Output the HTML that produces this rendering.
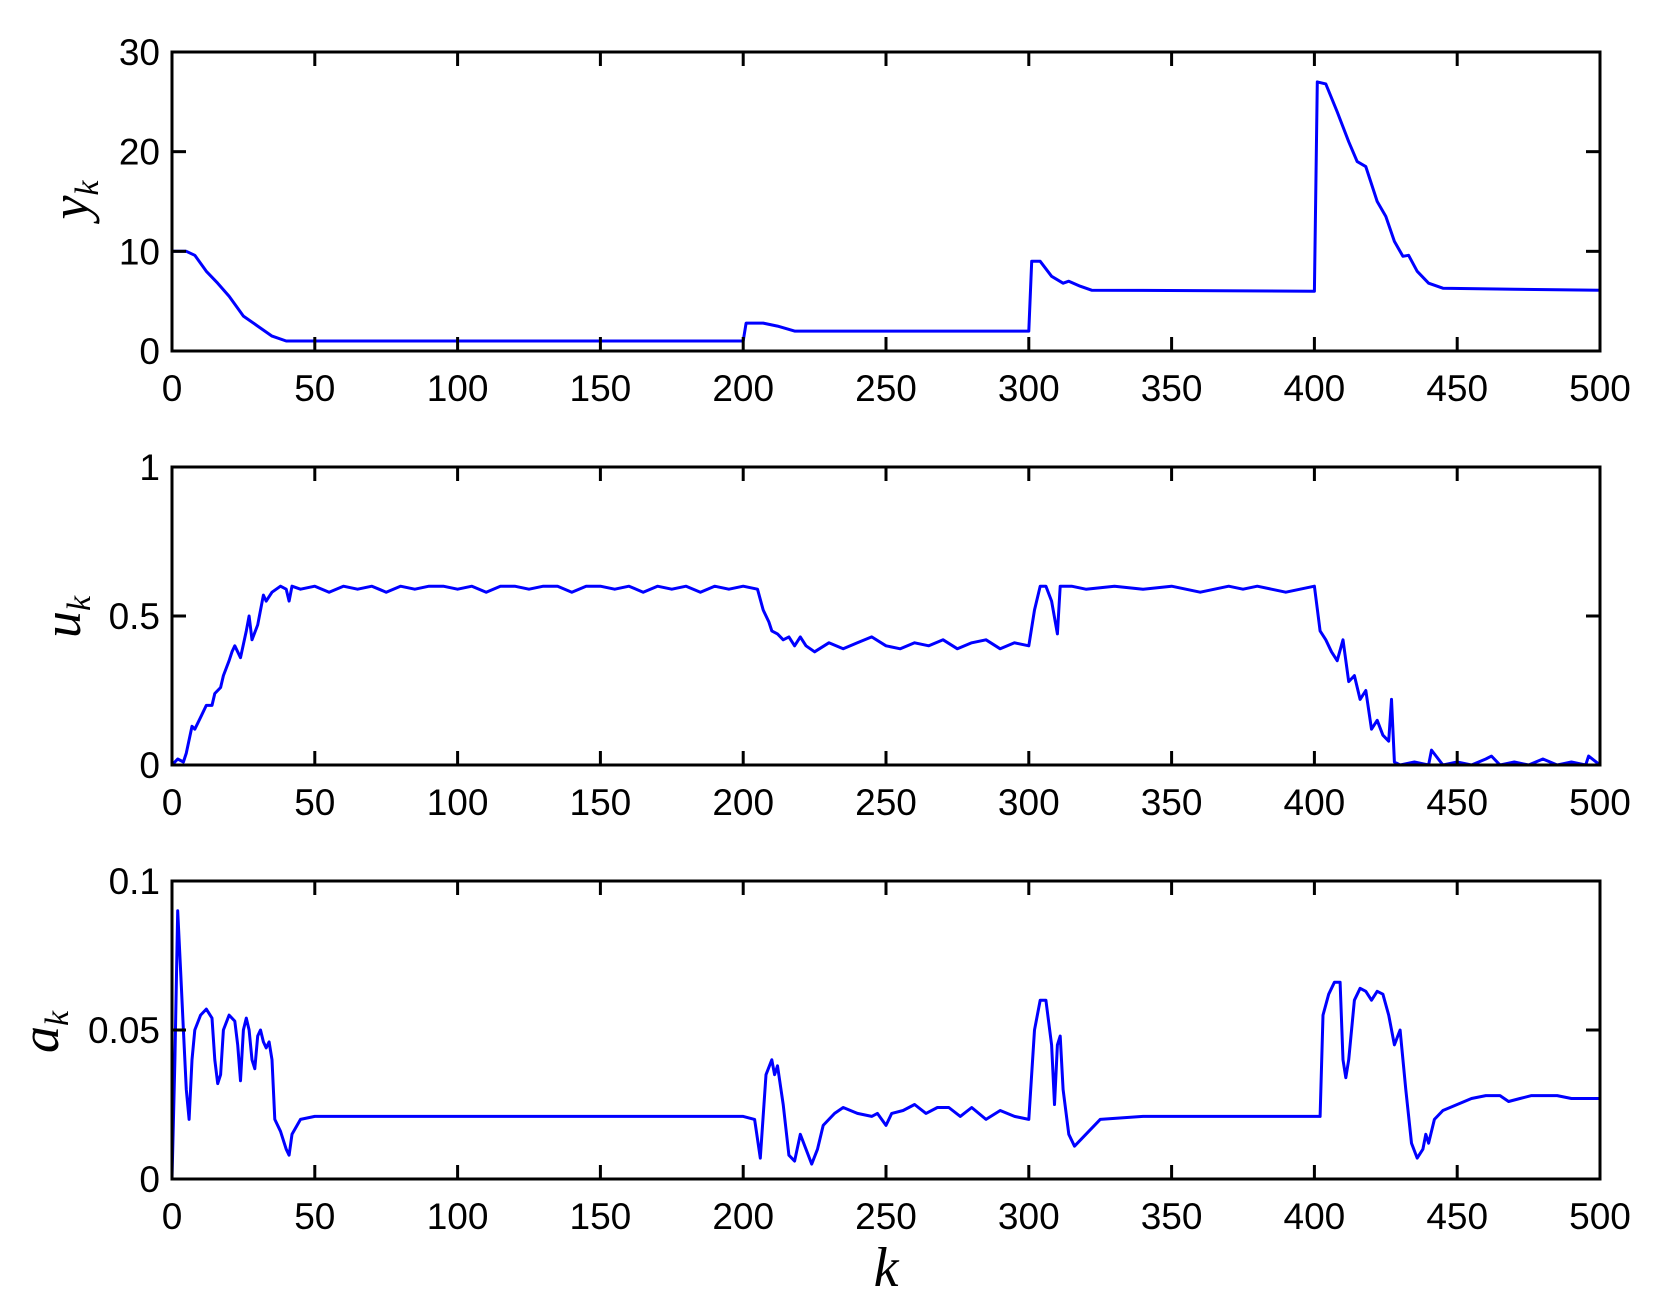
<!DOCTYPE html>
<html><head><meta charset="utf-8"><style>body{margin:0;background:#fff}svg{display:block}</style></head>
<body>
<svg id="fig" width="1663" height="1315" xmlns="http://www.w3.org/2000/svg" font-family="Liberation Sans, sans-serif"></svg>
<script>
const xTicks=[0,50,100,150,200,250,300,350,400,450,500];
const yK=[0,5,8,12,16,20,25,30,35,40,200,201,207,212,218,300,301,304,308,312,314,318,322,400,401,404,408,412,415,418,422,425,428,431,433,436,440,445,470,500];
const yV=[10,10,9.6,8,6.8,5.5,3.5,2.5,1.5,1,1,2.8,2.8,2.5,2,2,9,9,7.5,6.8,7,6.5,6.1,6,27,26.8,24,21,19,18.5,15,13.5,11,9.5,9.6,8,6.8,6.3,6.2,6.1];
const yTicks=[0,10,20,30];
const uK=[0,2,4,5,7,8,10,12,14,15,17,18,20,21,22,24,26,27,28,30,32,33,35,38,40,41,42,45,50,55,60,65,70,75,80,85,90,95,100,105,110,115,120,125,130,135,140,145,150,155,160,165,170,175,180,185,190,195,200,205,207,209,210,212,214,216,218,220,222,225,230,235,240,245,250,255,260,265,270,275,280,285,290,295,300,302,304,306,308,310,311,315,320,330,340,350,360,370,375,380,390,400,402,404,406,408,410,412,414,416,418,420,422,424,426,427,428,430,435,440,441,445,450,455,460,462,465,470,475,480,485,490,495,496,500];
const uV=[0,0.02,0.01,0.04,0.13,0.12,0.16,0.2,0.2,0.24,0.26,0.3,0.35,0.38,0.4,0.36,0.45,0.5,0.42,0.47,0.57,0.55,0.58,0.6,0.59,0.55,0.6,0.59,0.6,0.58,0.6,0.59,0.6,0.58,0.6,0.59,0.6,0.6,0.59,0.6,0.58,0.6,0.6,0.59,0.6,0.6,0.58,0.6,0.6,0.59,0.6,0.58,0.6,0.59,0.6,0.58,0.6,0.59,0.6,0.59,0.52,0.48,0.45,0.44,0.42,0.43,0.4,0.43,0.4,0.38,0.41,0.39,0.41,0.43,0.4,0.39,0.41,0.4,0.42,0.39,0.41,0.42,0.39,0.41,0.4,0.52,0.6,0.6,0.55,0.44,0.6,0.6,0.59,0.6,0.59,0.6,0.58,0.6,0.59,0.6,0.58,0.6,0.45,0.42,0.38,0.35,0.42,0.28,0.3,0.22,0.25,0.12,0.15,0.1,0.08,0.22,0.01,0,0.01,0,0.05,0,0.01,0,0.02,0.03,0,0.01,0,0.02,0,0.01,0,0.03,0,0];
const uTicks=[0,0.5,1];
const aK=[0,1,2,3,4,5,6,7,8,10,12,14,15,16,17,18,20,22,23,24,25,26,27,28,29,30,31,32,33,34,35,36,38,40,41,42,45,50,200,204,206,208,210,211,212,214,216,218,220,222,224,226,228,232,235,240,245,247,250,252,256,260,264,268,272,276,280,285,290,295,300,302,304,306,308,309,310,311,312,314,316,320,325,340,360,380,400,402,403,405,407,409,410,411,412,414,416,418,420,422,424,426,428,430,432,434,436,438,439,440,442,445,450,455,460,465,468,472,476,480,485,490,495,500];
const aV=[0,0.04,0.09,0.07,0.05,0.03,0.02,0.04,0.05,0.055,0.057,0.054,0.04,0.032,0.035,0.05,0.055,0.053,0.045,0.033,0.05,0.054,0.05,0.04,0.037,0.048,0.05,0.046,0.044,0.046,0.04,0.02,0.016,0.01,0.008,0.015,0.02,0.021,0.021,0.02,0.007,0.035,0.04,0.035,0.038,0.025,0.008,0.006,0.015,0.01,0.005,0.01,0.018,0.022,0.024,0.022,0.021,0.022,0.018,0.022,0.023,0.025,0.022,0.024,0.024,0.021,0.024,0.02,0.023,0.021,0.02,0.05,0.06,0.06,0.045,0.025,0.045,0.048,0.03,0.015,0.011,0.015,0.02,0.021,0.021,0.021,0.021,0.021,0.055,0.062,0.066,0.066,0.04,0.034,0.04,0.06,0.064,0.063,0.06,0.063,0.062,0.055,0.045,0.05,0.03,0.012,0.007,0.01,0.015,0.012,0.02,0.023,0.025,0.027,0.028,0.028,0.026,0.027,0.028,0.028,0.028,0.027,0.027,0.027];
const aTicks=[0,0.05,0.1];

const svg=document.getElementById('fig');
const NS='http://www.w3.org/2000/svg';
function mk(t,a,p){const e=document.createElementNS(NS,t);for(const k in a)e.setAttribute(k,a[k]);p.appendChild(e);return e;}
const L=172,R=1600;
function panel(name,top,bot,ks,vs,yt,ymax,labels,lab,lx,ly){
  const g=mk('g',{},svg);
  
  
  const X=k=>L+(R-L)*k/500, Y=v=>bot-(bot-top)*v/ymax;
  const pts=ks.map((k,i)=>X(k).toFixed(1)+','+Y(vs[i]).toFixed(1)).join(' ');
  const line=mk('polyline',{points:pts,fill:'none',stroke:'#0000ff','stroke-width':3,'stroke-linejoin':'round'},g);
  
  
  xTicks.forEach(t=>{const x=X(t);
    mk('line',{x1:x,y1:bot,x2:x,y2:bot-14,stroke:'#000','stroke-width':3},g);
    mk('line',{x1:x,y1:top,x2:x,y2:top+14,stroke:'#000','stroke-width':3},g);
    const tx=mk('text',{x:x,y:bot+50,'font-size':37,'text-anchor':'middle'},g);tx.textContent=t;
    
    
  });
  yt.forEach((t,i)=>{const y=Y(t);
    mk('line',{x1:L,y1:y,x2:L+14,y2:y,stroke:'#000','stroke-width':3},g);
    mk('line',{x1:R,y1:y,x2:R-14,y2:y,stroke:'#000','stroke-width':3},g);
    const tx=mk('text',{x:L-12,y:y+13,'font-size':37,'text-anchor':'end'},g);tx.textContent=labels[i];
    
    
  });
  const fr=mk('rect',{x:L,y:top,width:R-L,height:bot-top,fill:'none',stroke:'#000','stroke-width':3},g);
  
  
  const t=mk('text',{x:lx,y:ly,'font-size':54,'font-family':'Liberation Serif, serif','font-style':'italic','text-anchor':'middle',transform:`rotate(-90 ${lx} ${ly})`},g);
  t.innerHTML=lab+'<tspan font-size="34" dy="10">k</tspan>';
  
  
}
panel('y',52,351,yK,yV,yTicks,30,['0','10','20','30'],'y',88,200);
panel('u',467,765,uK,uV,uTicks,1,['0','0.5','1'],'u',80,617);
panel('a',881,1179,aK,aV,aTicks,0.1,['0','0.05','0.1'],'a',58,1032);
const kx=mk('text',{x:886,y:1286,'font-size':56,'font-family':'Liberation Serif, serif','font-style':'italic','text-anchor':'middle'},svg);
kx.textContent='k';


</script>
</body></html>
